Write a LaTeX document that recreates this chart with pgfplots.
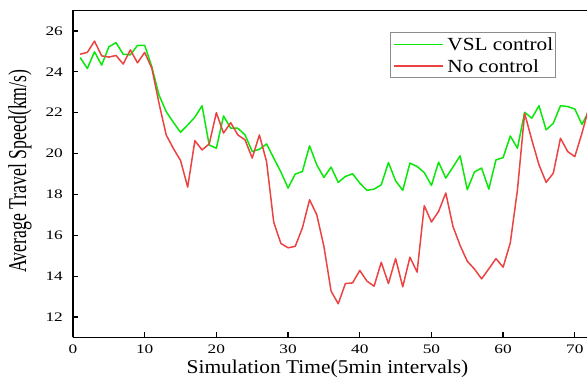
\documentclass[border=0pt]{standalone}
\usepackage{fontspec}
\setmainfont{Liberation Serif}
\newfontfamily\tickff{Liberation Serif}[FakeStretch=1.33]
\newfontfamily\legff{Liberation Serif}[FakeStretch=1.15]
\newfontfamily\xlabff{Liberation Serif}[FakeStretch=1.1]
\newfontfamily\ylabff{Liberation Serif}[FakeStretch=0.69]
\usepackage{pgfplots}
\pgfplotsset{compat=1.18}
\definecolor{vslgreen}{RGB}{10,232,10}
\definecolor{nored}{RGB}{235,66,66}

\begin{document}
\begin{tikzpicture}
\begin{axis}[
  scale only axis, width=514pt, height=327pt,
  xmin=0, xmax=71.7, ymin=11, ymax=27,
  axis x line=box, axis y line=left,
  axis line style={-, black, line width=1.6pt},
  xtick={0,10,...,70}, ytick={12,14,...,26},
  xtick pos=bottom, ytick pos=left, tick align=inside,
  major tick length=5pt,
  tick style={black, line width=1.3pt},
  /pgf/number format/assume math mode=true,
  xticklabel style={font=\tickff\fontsize{13}{15}\selectfont, inner sep=0pt, yshift=-7pt},
  yticklabel style={font=\tickff\fontsize{13}{15}\selectfont, inner sep=0pt, xshift=-10pt},
  xlabel={Simulation Time(5min intervals)},
  ylabel={Average Travel Speed(km/s)},
  xlabel style={font=\xlabff\fontsize{19.5}{22}\selectfont, at={(axis description cs:0.495,-0.1116)}, anchor=base, inner sep=0pt},
  ylabel style={font=\ylabff\fontsize{25.7}{28}\selectfont, at={(axis description cs:-0.0914,0.509)}, anchor=base, inner sep=0pt},
  legend style={at={(axis description cs:0.9397,0.9333)}, anchor=north east,
    draw=gray!90, line width=0.8pt, inner xsep=2.4pt, inner ysep=5.3pt,
    row sep=9pt, column sep=4pt,
    font=\legff\fontsize{18.5}{20}\selectfont,
    nodes={inner sep=0pt, text height=12.7pt, text depth=0pt},
    cells={anchor=west}},
  legend image code/.code={\draw[#1, line width=1.2pt] (0pt,0pt) -- (49pt,0pt);},
]
\addplot[vslgreen, line width=1.5pt, line join=round] coordinates {
(1,24.70) (2,24.16) (3,24.98) (4,24.33) (5,25.22) (6,25.43) (7,24.86) (8,24.83)
(9,25.29) (10,25.29) (11,24.24) (12,22.86) (13,22.05) (14,21.53) (15,21.04) (16,21.40)
(17,21.78) (18,22.34) (19,20.42) (20,20.26) (21,21.84) (22,21.24) (23,21.24) (24,20.91)
(25,20.10) (26,20.21) (27,20.47) (28,19.78) (29,19.10) (30,18.31) (31,19.00) (32,19.12)
(33,20.38) (34,19.45) (35,18.83) (36,19.34) (37,18.59) (38,18.88) (39,19.01) (40,18.56)
(41,18.20) (42,18.26) (43,18.47) (44,19.56) (45,18.67) (46,18.20) (47,19.53) (48,19.37)
(49,19.07) (50,18.44) (51,19.58) (52,18.80) (53,19.34) (54,19.89) (55,18.23) (56,19.10)
(57,19.29) (58,18.26) (59,19.69) (60,19.80) (61,20.86) (62,20.26) (63,22.02) (64,21.73)
(65,22.34) (66,21.16) (67,21.48) (68,22.34) (69,22.30) (70,22.18) (71,21.43) (72,22.10)
};
\addlegendentry{VSL control}
\addplot[nored, line width=1.5pt, line join=round] coordinates {
(1,24.86) (2,24.95) (3,25.50) (4,24.78) (5,24.72) (6,24.80) (7,24.38) (8,25.07)
(9,24.44) (10,24.95) (11,24.17) (12,22.46) (13,20.91) (14,20.25) (15,19.66) (16,18.36)
(17,20.63) (18,20.18) (19,20.47) (20,22.00) (21,21.00) (22,21.51) (23,20.91) (24,20.67)
(25,19.78) (26,20.91) (27,19.61) (28,16.64) (29,15.60) (30,15.39) (31,15.46) (32,16.36)
(33,17.74) (34,17.01) (35,15.46) (36,13.27) (37,12.65) (38,13.64) (39,13.67) (40,14.28)
(41,13.76) (42,13.51) (43,14.68) (44,13.64) (45,14.86) (46,13.48) (47,14.93) (48,14.20)
(49,17.45) (50,16.65) (51,17.17) (52,18.07) (53,16.44) (54,15.50) (55,14.73) (56,14.35)
(57,13.87) (58,14.36) (59,14.86) (60,14.44) (61,15.63) (62,18.23) (63,21.97) (64,20.67)
(65,19.45) (66,18.59) (67,19.04) (68,20.75) (69,20.10) (70,19.85) (71,21.00) (72,22.30)
};
\addlegendentry{No control}
\end{axis}
\pgfresetboundingbox
\path[use as bounding box] (current axis.south west) ++(-73pt,-41.5pt) rectangle ++(587pt,379pt);
\end{tikzpicture}
\end{document}
